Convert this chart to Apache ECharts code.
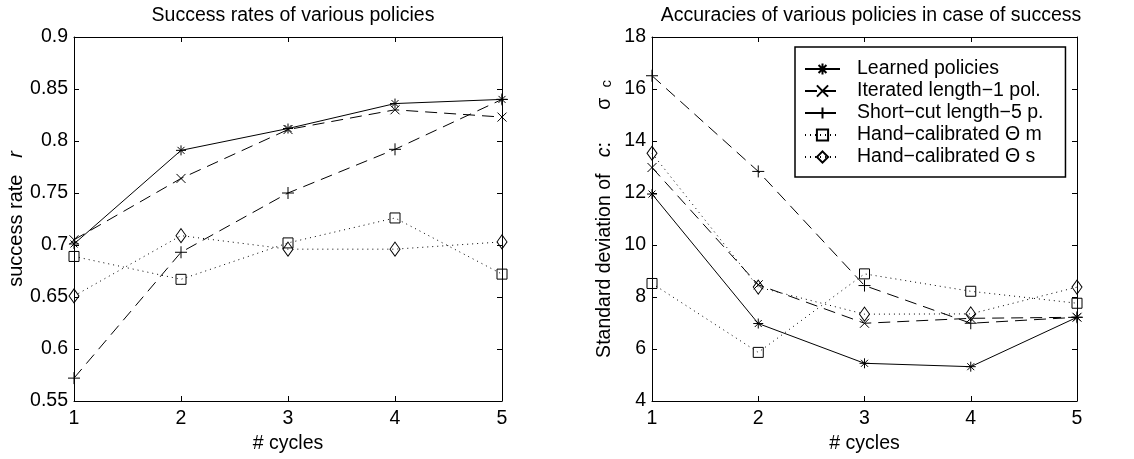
<!DOCTYPE html>
<html>
<head>
<meta charset="utf-8">
<script src="https://cdn.jsdelivr.net/npm/echarts@6/dist/echarts.min.js"></script>
<style>
html,body{margin:0;padding:0;background:#fff;}
#chart{width:1134px;height:459px;}
</style>
</head>
<body>
<div id="chart"></div>
<script>
// ---- data ----
const cycles = [1, 2, 3, 4, 5];
const seriesNames = [
  'Learned policies',
  'Iterated length\u22121 pol.',
  'Short\u2212cut length\u22125 p.',
  'Hand\u2212calibrated \u0398 m',
  'Hand\u2212calibrated \u0398 s'
];
// success rates (left panel)
const successLearned   = [0.701, 0.791, 0.812, 0.836, 0.840];
const successIterated  = [0.705, 0.764, 0.811, 0.830, 0.823];
const successShortcut  = [0.572, 0.693, 0.750, 0.792, 0.840];
const successHandM     = [0.689, 0.667, 0.702, 0.726, 0.672];
const successHandS     = [0.651, 0.709, 0.696, 0.696, 0.703];
// standard deviation of c (right panel)
const sigmaLearned  = [11.96, 6.98, 5.45, 5.32, 7.22];
const sigmaIterated = [12.98, 8.47, 6.99, 7.18, 7.22];
const sigmaShortcut = [16.51, 12.83, 8.44, 6.99, 7.22];
const sigmaHandM    = [8.52, 5.87, 8.89, 8.22, 7.76];
const sigmaHandS    = [13.53, 8.38, 7.34, 7.35, 8.38];

const FONT = '"Liberation Sans", Arial, Helvetica, sans-serif';
const SYM = {
  star: 'path://M0,-1L0,1M-1,0L1,0M-0.7,-0.7L0.7,0.7M-0.7,0.7L0.7,-0.7',
  cross: 'path://M-1,-1L1,1M-1,1L1,-1',
  plus: 'path://M0,-1L0,1M-1,0L1,0',
  square: 'path://M-1,-1L1,-1L1,1L-1,1Z',
  diamond: 'path://M0,-1.4L1,0L0,1.4L-1,0Z'
};
const styles = [
  {symbol: SYM.star, size: 10, line: 'solid'},
  {symbol: SYM.cross, size: 9, line: [12, 7]},
  {symbol: SYM.plus, size: 12, line: [12, 7]},
  {symbol: SYM.square, size: 10, line: [1, 4]},
  {symbol: SYM.diamond, size: [10, 14], line: [1, 4]}
];

function pairs(vals) { return cycles.map((c, i) => [c, vals[i]]); }

function makeSeries(gridIdx, dataSets) {
  return dataSets.map((vals, k) => ({
    name: seriesNames[k],
    type: 'line',
    xAxisIndex: gridIdx * 2,
    yAxisIndex: gridIdx * 2,
    data: pairs(vals),
    symbol: styles[k].symbol,
    symbolSize: styles[k].size,
    showAllSymbol: true,
    silent: true,
    animation: false,
    lineStyle: {color: '#000', width: 1, type: styles[k].line},
    itemStyle: {color: 'rgba(0,0,0,0)', borderColor: '#000', borderWidth: 1},
    emphasis: {disabled: true},
    z: 3
  }));
}

const axisLineStyle = {show: true, onZero: false, lineStyle: {color: '#000', width: 1}};
const tickStyle = {show: true, inside: true, length: 5, lineStyle: {color: '#000', width: 1}};
const labelStyle = {color: '#000', fontSize: 19.5, fontFamily: FONT};

function xAxes(gridIdx) {
  return [
    {gridIndex: gridIdx, type: 'value', min: 1, max: 5, interval: 1, position: 'bottom',
     axisLine: axisLineStyle, axisTick: tickStyle, splitLine: {show: false},
     axisLabel: Object.assign({margin: 8}, labelStyle),
     name: '# cycles', nameLocation: 'middle', nameGap: 32,
     nameTextStyle: {color: '#000', fontSize: 19.5, fontFamily: FONT}},
    {gridIndex: gridIdx, type: 'value', min: 1, max: 5, interval: 1, position: 'top',
     axisLine: axisLineStyle, axisTick: tickStyle, splitLine: {show: false},
     axisLabel: {show: false}}
  ];
}

const mainRich = {fontSize: 19.5, fontFamily: FONT, color: '#000', verticalAlign: 'top', lineHeight: 20, padding: [0, 0, 6, 0]};
const option = {
  backgroundColor: '#fff',
  animation: false,
  title: [
    {text: 'Success rates of various policies', left: 288, top: 1, textAlign: 'center',
     textStyle: {color: '#000', fontSize: 19.5, fontWeight: 'normal', fontFamily: FONT}},
    {text: 'Accuracies of various policies in case of success', left: 866, top: 1, textAlign: 'center',
     textStyle: {color: '#000', fontSize: 19.5, fontWeight: 'normal', fontFamily: FONT}}
  ],
  grid: [
    {left: 74, right: 632, top: 37, bottom: 58},
    {left: 652, right: 57, top: 37, bottom: 58}
  ],
  legend: {
    show: true,
    orient: 'vertical',
    left: 795, top: 47,
    padding: [12, 22, 10, 9],
    itemGap: 2,
    itemWidth: 35,
    itemHeight: 14,
    backgroundColor: '#fff',
    borderColor: '#000',
    borderWidth: 1.5,
    borderRadius: 0,
    selectedMode: false,
    textStyle: {color: '#000', fontSize: 19.5, fontFamily: FONT, lineHeight: 20, padding: [0, 0, 0, 12]},
    data: seriesNames
  },
  xAxis: xAxes(0).concat(xAxes(1)),
  yAxis: [
    {gridIndex: 0, type: 'value', min: 0.55, max: 0.9, interval: 0.05, position: 'left',
     axisLine: axisLineStyle, axisTick: tickStyle, splitLine: {show: false},
     axisLabel: Object.assign({margin: 6}, labelStyle),
     name: '{m|success rate   }{i|r}', nameLocation: 'middle', nameGap: 45,
     nameTextStyle: {color: '#000', fontSize: 20, fontFamily: FONT,
       rich: {m: {fontSize: 20, fontFamily: FONT, color: '#000'},
              i: {fontSize: 20, fontFamily: FONT, fontStyle: 'italic', color: '#000'}}}},
    {gridIndex: 0, type: 'value', min: 0.55, max: 0.9, interval: 0.05, position: 'right',
     axisLine: axisLineStyle, axisTick: tickStyle, splitLine: {show: false},
     axisLabel: {show: false}},
    {gridIndex: 1, type: 'value', min: 4, max: 18, interval: 2, position: 'left',
     axisLine: axisLineStyle, axisTick: tickStyle, splitLine: {show: false},
     axisLabel: Object.assign({margin: 6}, labelStyle),
     name: '{m|Standard deviation of   }{i|c}{m|:      \u03c3}{s|c}', nameLocation: 'middle', nameGap: 28,
     nameTextStyle: {color: '#000', fontSize: 19.5, fontFamily: FONT,
       rich: {m: mainRich,
              i: Object.assign({}, mainRich, {fontStyle: 'italic'}),
              s: {fontSize: 15, fontFamily: FONT, color: '#000', verticalAlign: 'bottom', lineHeight: 15, padding: [0, 0, 0, 10]}}}},
    {gridIndex: 1, type: 'value', min: 4, max: 18, interval: 2, position: 'right',
     axisLine: axisLineStyle, axisTick: tickStyle, splitLine: {show: false},
     axisLabel: {show: false}}
  ],
  series: makeSeries(0, [successLearned, successIterated, successShortcut, successHandM, successHandS])
    .concat(makeSeries(1, [sigmaLearned, sigmaIterated, sigmaShortcut, sigmaHandM, sigmaHandS]))
};

const chart = echarts.init(document.getElementById('chart'), null, {renderer: 'canvas'});
chart.setOption(option);
</script>
</body>
</html>
